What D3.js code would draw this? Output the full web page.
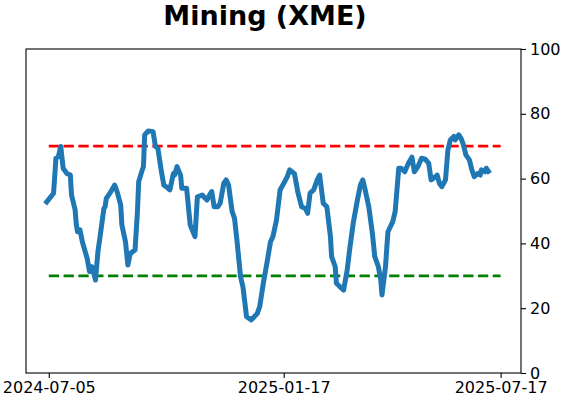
<!DOCTYPE html>
<html>
<head>
<meta charset="utf-8">
<script src="https://cdn.jsdelivr.net/npm/d3@7"></script>
<style>
  body { margin: 0; background: #fff; }
  svg { display: block; font-family: "DejaVu Sans", sans-serif; }
</style>
</head>
<body>
<svg id="chart" width="562" height="402"></svg>
<script>
// values
const dates = [
  "2024-07-02","2024-07-09","2024-07-11","2024-07-13","2024-07-15","2024-07-17","2024-07-20","2024-07-23",
  "2024-07-24","2024-07-27","2024-07-28","2024-07-29","2024-07-31","2024-08-02","2024-08-06","2024-08-08",
  "2024-08-10","2024-08-13","2024-08-15","2024-08-17","2024-08-20","2024-08-21","2024-08-22","2024-08-25",
  "2024-08-29","2024-08-31","2024-09-03","2024-09-04","2024-09-07","2024-09-09","2024-09-11","2024-09-15",
  "2024-09-17","2024-09-18","2024-09-21","2024-09-22","2024-09-23","2024-09-26","2024-09-30","2024-10-02",
  "2024-10-04","2024-10-07","2024-10-09","2024-10-11","2024-10-14","2024-10-17","2024-10-18","2024-10-20",
  "2024-10-23","2024-10-24","2024-10-28","2024-10-31","2024-11-04","2024-11-06","2024-11-10","2024-11-14",
  "2024-11-17","2024-11-18","2024-11-20","2024-11-23","2024-11-25","2024-11-28","2024-11-30","2024-12-02",
  "2024-12-05","2024-12-07","2024-12-09","2024-12-12","2024-12-14","2024-12-17","2024-12-21","2024-12-26",
  "2024-12-28","2024-12-31","2025-01-03","2025-01-06","2025-01-08","2025-01-11","2025-01-14","2025-01-17",
  "2025-01-20","2025-01-22","2025-01-26","2025-01-29","2025-02-01","2025-02-04","2025-02-06","2025-02-08",
  "2025-02-11","2025-02-14","2025-02-16","2025-02-19","2025-02-22","2025-02-25","2025-02-26","2025-03-01",
  "2025-03-02","2025-03-05","2025-03-08","2025-03-11","2025-03-13","2025-03-16","2025-03-19","2025-03-22",
  "2025-03-24","2025-03-26","2025-03-29","2025-04-01","2025-04-03","2025-04-06","2025-04-08","2025-04-09",
  "2025-04-12","2025-04-13","2025-04-14","2025-04-18","2025-04-20","2025-04-23","2025-04-25","2025-04-28",
  "2025-05-01","2025-05-04","2025-05-06","2025-05-09","2025-05-12","2025-05-15","2025-05-18","2025-05-20",
  "2025-05-22","2025-05-25","2025-05-27","2025-05-29","2025-06-01","2025-06-03","2025-06-05","2025-06-08",
  "2025-06-09","2025-06-12","2025-06-14","2025-06-16","2025-06-18","2025-06-21","2025-06-23","2025-06-25",
  "2025-06-28","2025-06-30","2025-07-01","2025-07-04","2025-07-05","2025-07-08"
]
const values = [
  52.2,55.5,66.3,66.8,69.9,63.2,61.6,61.1,
  54.9,50.3,45.7,43.6,44.2,40.5,35.4,31.3,
  32.8,28.7,37.4,42.6,50.8,51.3,53.9,55.5,
  58.0,56.0,51.9,45.7,40.5,33.3,36.9,38.0,
  50.0,59.0,62.7,63.7,73.5,74.7,74.5,69.9,
  69.4,62.1,58.0,57.5,56.5,61.6,61.1,63.7,
  61.0,57.0,57.0,45.7,42.1,54.4,54.9,53.4,
  55.5,56.0,51.3,51.3,52.4,58.5,59.6,58.0,
  49.8,47.7,41.0,29.7,26.6,17.4,16.4,18.4,
  20.5,27.7,33.9,40.5,42.1,47.2,56.5,58.5,
  60.6,62.7,61.5,55.5,51.3,50.8,49.3,55.5,
  56.5,59.6,61.1,52.4,51.3,42.1,35.9,32.8,
  27.7,26.6,25.6,31.8,38.0,46.2,52.4,58.0,
  59.6,56.5,51.3,43.1,35.9,32.8,28.7,24.1,
  33.0,38.5,43.6,46.7,49.8,63.2,63.2,62.1,
  64.7,66.6,62.1,63.7,66.3,66.0,64.7,59.6,
  60.1,61.1,58.5,57.5,59.6,68.8,71.9,73.0,
  71.9,73.5,72.4,70.4,67.3,65.7,62.7,60.6,
  61.6,61.1,62.7,62.1,63.2,61.6
]
const xTickLabels = ["2024-07-05","2025-01-17","2025-07-17"]
const yTickValues = [0,20,40,60,80,100]
const upperLevel = 70
const lowerLevel = 30
const levelSpan = ["2024-07-05","2025-07-17"]
const xRange = ["2024-06-16","2025-08-03"]
const titleText = "Mining (XME)"

const parse = d3.timeParse("%Y-%m-%d")
const fmt = d3.timeFormat("%Y-%m-%d")

const margin = {top: 49, right: 41, bottom: 29, left: 26}
const svg = d3.select("#chart")
const width = +svg.attr("width") - margin.left - margin.right
const height = +svg.attr("height") - margin.top - margin.bottom

const x = d3.scaleTime()
    .domain(xRange.map(parse))
    .range([0, width])
const y = d3.scaleLinear()
    .domain([0, 100])
    .range([height, 0])

const g = svg.append("g")
    .attr("transform", `translate(${margin.left},${margin.top})`)

let series = dates.map((d, i) => ({date: parse(d), value: values[i]}))

// threshold lines
let levels = [
    {v: upperLevel, color: "#ff0000"},
    {v: lowerLevel, color: "#008000"}
]
g.selectAll("line.level")
    .data(levels)
    .enter()
    .append("line")
        .attr("class", "level")
        .attr("x1", x(parse(levelSpan[0])))
        .attr("x2", x(parse(levelSpan[1])))
        .attr("y1", d => y(d.v))
        .attr("y2", d => y(d.v))
        .attr("stroke", d => d.color)
        .attr("stroke-width", 2.8)
        .attr("stroke-dasharray", "10.3,4.5")

g.append("path")
    .datum(series)
    .attr("fill", "none")
    .attr("stroke", "#1f77b4")
    .attr("stroke-width", 5)
    .attr("stroke-linejoin", "round")
    .attr("stroke-linecap", "butt")
    .attr("d", d3.line().x(d => x(d.date)).y(d => y(d.value)))

// axes
let xAxis = g.append("g")
    .attr("transform", `translate(0,${height})`)
    .call(d3.axisBottom(x)
        .tickValues(xTickLabels.map(parse))
        .tickFormat(fmt)
        .tickSize(5)
        .tickPadding(4))
let yAxis = g.append("g")
    .attr("transform", `translate(${width},0)`)
    .call(d3.axisRight(y)
        .tickValues(yTickValues)
        .tickSize(5)
        .tickPadding(4))

;[xAxis, yAxis].forEach(a => {
    a.select(".domain").remove()
    a.selectAll("line").attr("stroke", "#000").attr("stroke-width", 1.1)
    a.selectAll("text")
        .attr("fill", "#000")
        .style("font-size", "16px")
        .style("font-family", "DejaVu Sans")
})

// frame
g.append("rect")
    .attr("width", width)
    .attr("height", height)
    .attr("fill", "none")
    .attr("stroke", "#000")
    .attr("stroke-width", 1.1)

svg.append("text")
    .attr("x", 265)
    .attr("y", 25)
    .attr("text-anchor", "middle")
    .style("font-size", "27px")
    .style("font-weight", "bold")
    .style("font-family", "DejaVu Sans")
    .text(titleText)
</script>
</body>
</html>
